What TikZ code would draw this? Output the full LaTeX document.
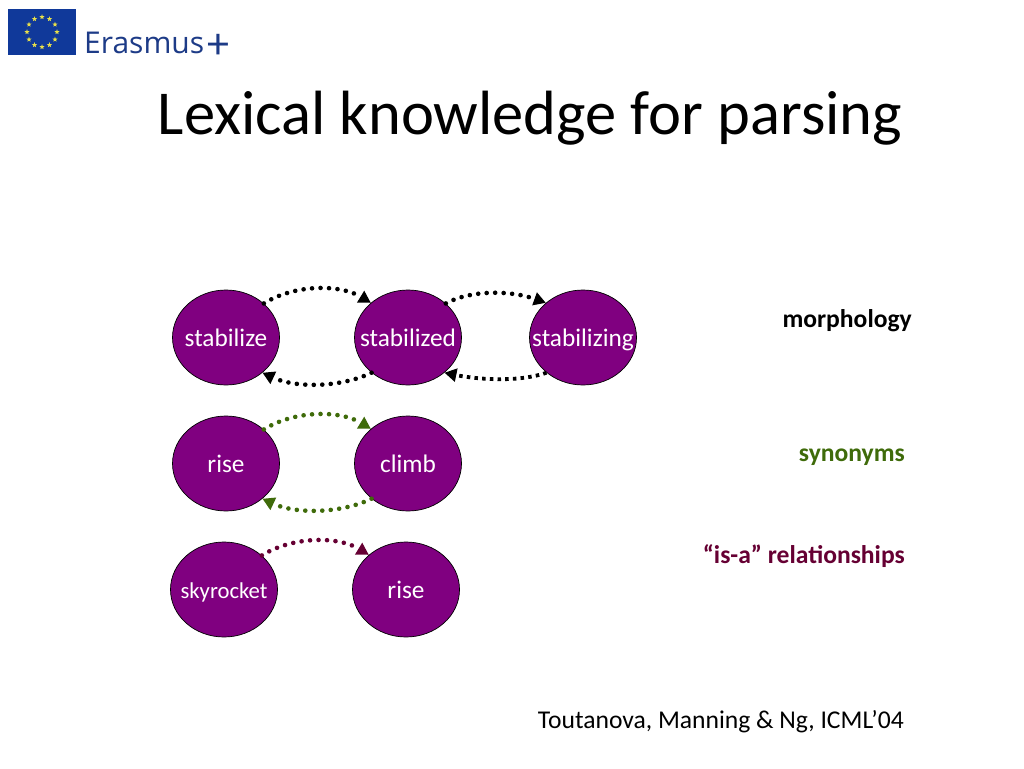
\documentclass[tikz,border=0pt]{standalone}
\usepackage{fontspec}
\setmainfont{Carlito}
\newfontfamily\logofont{Open Sans}
\usetikzlibrary{shapes.geometric,arrows.meta}
\definecolor{nodepurple}{HTML}{800080}
\definecolor{syngreen}{HTML}{3F6B0A}
\definecolor{isared}{HTML}{660033}
\definecolor{eublue}{HTML}{10399A}
\definecolor{erblue}{HTML}{1D3B87}
\definecolor{eustar}{HTML}{E8E04A}
\newcommand{\wordtext}[1]{\makebox[0pt]{#1}}
\tikzset{
  x=1pt,y=-1pt,
  word/.style={ellipse,draw=black,line width=0.7pt,fill=nodepurple,text=white,minimum width=107pt,minimum height=95pt,inner sep=0pt,text height=18pt,text depth=0pt,font=\fontsize{25.3}{30}\selectfont},
  link/.style={line width=4.6pt,line cap=round,dash pattern=on 0pt off 8.5pt,-{Triangle[length=12pt,width=13pt]}},
  linkdense/.style={line width=3.8pt,dash pattern=on 3.5pt off 4.2pt,-{Triangle[length=12pt,width=13pt]}},
  legend/.style={font=\fontsize{25.6}{30}\selectfont\bfseries,anchor=base east,inner sep=0pt},
  eustarshape/.style={star,star points=5,star point ratio=2.4,fill=eustar,minimum size=5.5pt,inner sep=0pt}
}
\begin{document}
\begin{tikzpicture}
\useasboundingbox (0,0) rectangle (1024,768);
\fill[white] (0,0) rectangle (1024,768);
% logo
\node[fill=eublue,minimum width=68pt,minimum height=46pt,inner sep=0pt] (flag) at (42,32) {};
\foreach \i in {0,...,11}
  \node[eustarshape] (s\i) at ({42+15*cos(30*\i)},{32+15*sin(30*\i)}) {};
\node[anchor=base west,text=erblue,inner sep=0pt,font=\logofont\fontsize{30}{36}\selectfont] (logo) at (84,54) {Erasmus\hspace{3pt}\raisebox{-5pt}{\rmfamily\fontsize{44}{50}\selectfont +}};
% title
\node[anchor=base,inner sep=0pt,font=\fontsize{62.5}{70}\selectfont] (title) at (530,134) {Lexical knowledge for parsing};
% nodes
\node[word] (a) at (226,337.5) {\wordtext{stabilize}};
\node[word] (b) at (408,337.5) {\wordtext{stabilized}};
\node[word] (c) at (583,337.5) {\wordtext{stabilizing}};
\node[word] (d) at (226,463.5) {\wordtext{rise}};
\node[word] (e) at (408,463.5) {\wordtext{climb}};
\node[word,font=\fontsize{22.7}{27}\selectfont] (f) at (224,589.5) {\wordtext{skyrocket}};
\node[word] (g) at (406,589.5) {\wordtext{rise}};
% connectors
\draw[link] (a.42) .. controls (295,284) and (340,284) .. (b.137);
\draw[link] (b.42) .. controls (470,290) and (510,290) .. (c.137);
\draw[link] (b.224) .. controls (340,388) and (295,388) .. (a.316);
\draw[linkdense] (c.224) .. controls (520,382) and (480,380) .. (b.316);
\draw[link,draw=syngreen] (d.42) .. controls (295,410) and (340,410) .. (e.137);
\draw[link,draw=syngreen] (e.224) .. controls (340,514) and (295,514) .. (d.316);
\draw[link,draw=isared] (f.42) .. controls (293,536) and (338,536) .. (g.137);
% legends
\node[legend] (m) at (912,327.5) {morphology};
\node[legend,text=syngreen] (s) at (905,461) {synonyms};
\node[legend,text=isared] (i) at (905,563) {“is-a” relationships};
\node[anchor=base east,inner sep=0pt,font=\fontsize{25.6}{30}\selectfont] (cite) at (904,728) {Toutanova, Manning \& Ng, ICML’04};
\end{tikzpicture}
\end{document}
